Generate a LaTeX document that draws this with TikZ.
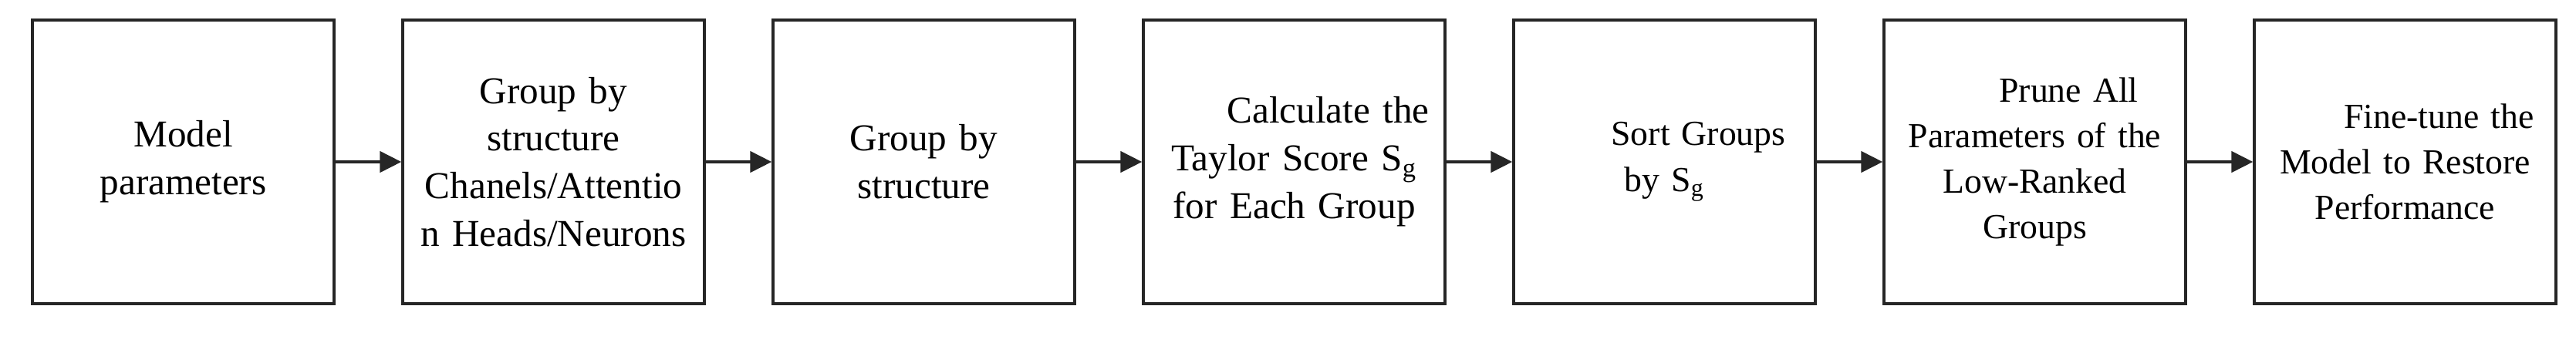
\documentclass[tikz,border=0pt]{standalone}
\usepackage{fontspec}
\setmainfont{Liberation Serif}
\usepackage{tikz}
\usetikzlibrary{arrows.meta}
\tikzstyle{box_step} = [rectangle, draw=black!85, line width=0.95pt, inner sep=0pt, minimum width=3.91cm, minimum height=3.68cm, text width=3.7cm, align=center, font=\fontsize{14pt}{17.6pt}\selectfont]
\tikzstyle{box_small} = [box_step, font=\fontsize{13pt}{16.8pt}\selectfont]
\tikzstyle{edge_flow} = [-{Triangle[length=0.28cm,width=0.27cm]}, line width=1.3pt, black!85]
\newcommand{\firstindent}{\hspace*{0.88cm}}

\begin{document}
\begin{tikzpicture}
			\useasboundingbox (0,0) rectangle (33.39,4.44);
			\node (A) at (2.375,2.34) [box_step] {Model\\parameters};
			\node (B) at (7.175,2.34) [box_step] {Group by\\structure\\Chanels/Attentio\\n Heads/Neurons};
			\node (C) at (11.975,2.34) [box_step] {Group by\\structure};
			\node (D) at (16.775,2.34) [box_step] {\firstindent Calculate the\\Taylor Score S\textsubscript{g}\\for Each Group};
			\node (E) at (21.575,2.34) [box_small] {\firstindent Sort Groups\\by S\textsubscript{g}};
			\node (F) at (26.375,2.34) [box_small] {\firstindent Prune All\\Parameters of the\\Low-Ranked\\Groups};
			\node (G) at (31.175,2.34) [box_small] {\firstindent Fine-tune the\\Model to Restore\\Performance};
			
			\draw[edge_flow] (A)--(B);
			\draw[edge_flow] (B)--(C);
			\draw[edge_flow] (C)--(D);
			\draw[edge_flow] (D)--(E);
			\draw[edge_flow] (E)--(F);
			\draw[edge_flow] (F)--(G);
		\end{tikzpicture}
\end{document}
